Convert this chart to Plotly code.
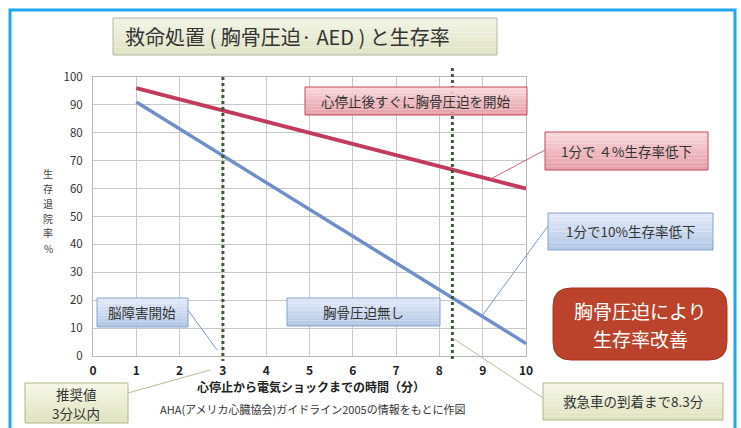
import plotly.graph_objects as go
import numpy as np

# ---------------- data ----------------
minutes = [1, 10]
survival_with_cpr = [96, 60]        # 心停止後すぐに胸骨圧迫を開始
survival_without_cpr = [91, 4.5]    # 胸骨圧迫無し
recommended_time = 3                # 推奨値 3分以内
ambulance_time = 8.3                # 救急車の到着まで8.3分
x_ticks = list(range(0, 11))
y_ticks = list(range(0, 101, 10))

title_text = "救命処置 ( 胸骨圧迫· AED ) と生存率"
xaxis_title = "心停止から電気ショックまでの時間（分）"
yaxis_title_chars = ["生", "存", "退", "院", "率", "%"]
source_text = "AHA(アメリカ心臓協会)ガイドライン2005の情報をもとに作図"

W, H = 741, 428
PX0, PX1 = 93, 526   # pixel x of x=0 and x=10
PY0, PY1 = 356, 77   # pixel y of y=0 and y=100
FONT = "Noto Sans CJK JP"


def px(x):
    return (x - PX0) / (PX1 - PX0)


def py(y):
    return (PY0 - y) / (PY0 - PY1)


def dx(v):  # data x -> paper
    return (v - 0) / 10


def dy(v):  # data y -> paper
    return v / 100


fig = go.Figure()
fig.add_trace(go.Scatter(x=minutes, y=survival_with_cpr, mode="lines",
                         line=dict(color="#c23a5c", width=4), hoverinfo="skip"))
fig.add_trace(go.Scatter(x=minutes, y=survival_without_cpr, mode="lines",
                         line=dict(color="#6f8fcb", width=3.5), hoverinfo="skip"))

shapes = []
annotations = []


def hexmix(c1, c2, t):
    a = [int(c1[i:i + 2], 16) for i in (1, 3, 5)]
    b = [int(c2[i:i + 2], 16) for i in (1, 3, 5)]
    return "#%02x%02x%02x" % tuple(round(a[k] + (b[k] - a[k]) * t) for k in range(3))


def add_box(x0, y0, x1, y1, ctop, cbot, border, n=10):
    for i in range(n):
        ya = y0 + (y1 - y0) * i / n
        yb = y0 + (y1 - y0) * (i + 1) / n
        shapes.append(dict(type="rect", xref="paper", yref="paper",
                           x0=px(x0), x1=px(x1), y0=py(ya), y1=py(yb),
                           fillcolor=hexmix(ctop, cbot, i / (n - 1)),
                           line=dict(width=0), layer="above"))
    shapes.append(dict(type="rect", xref="paper", yref="paper",
                       x0=px(x0), x1=px(x1), y0=py(y0), y1=py(y1),
                       line=dict(color=border, width=1), layer="above"))


def add_text(x, y, text, size=13, color="#333333", weight="normal"):
    annotations.append(dict(x=px(x), y=py(y), xref="paper", yref="paper",
                            text=text, showarrow=False, xanchor="center",
                            yanchor="middle", borderpad=0,
                            font=dict(family=FONT, size=size, color=color,
                                      weight=weight)))


def add_leader(x0, y0, x1, y1, color):
    shapes.append(dict(type="line", xref="paper", yref="paper",
                       x0=x0, y0=y0, x1=x1, y1=y1,
                       line=dict(color=color, width=1), layer="above"))


# outer frame
shapes.append(dict(type="rect", xref="paper", yref="paper",
                   x0=px(10), x1=px(735), y0=py(10), y1=py(445),
                   line=dict(color="#1fa8ef", width=3), layer="below"))

# dotted reference lines
shapes.append(dict(type="line", xref="paper", yref="paper",
                   x0=dx(recommended_time), x1=dx(recommended_time),
                   y0=dy(100), y1=py(361),
                   line=dict(color="#3d5c36", width=3, dash="dot"), layer="above"))
shapes.append(dict(type="line", xref="paper", yref="paper",
                   x0=dx(ambulance_time), x1=dx(ambulance_time),
                   y0=py(68), y1=py(359),
                   line=dict(color="#3d5c36", width=3, dash="dot"), layer="above"))

PINK = ("#f7d6da", "#e6a0a9", "#c24a5a")
BLUE = ("#e2eaf7", "#b3c7e6", "#87a3cf")
GREEN = ("#f5f7e6", "#e0e4c0", "#b0b488")

# title box
add_box(113, 18, 497, 55, "#f1f3e2", "#e0e4c6", "#b6b6a0")
add_text(287, 37, title_text, size=20, color="#333333")

# leaders
r_x = 9.17
r_y = float(np.interp(r_x, minutes, survival_with_cpr))
add_leader(dx(r_x), dy(r_y), px(545), py(150), "#c8687a")
b_x = 8.98
b_y = float(np.interp(b_x, minutes, survival_without_cpr))
add_leader(dx(b_x), dy(b_y), px(548), py(226), "#7a96c8")
add_leader(px(188), py(310), px(217), py(350), "#7a96c8")
add_leader(px(128), py(393), px(210), py(370), "#bcbc94")
add_leader(dx(ambulance_time), dy(6.5), px(543), py(398), "#bcbc94")

# boxes
add_box(305, 87, 527, 115, *PINK)
add_text(416, 101, "心停止後すぐに胸骨圧迫を開始", size=13.5)
add_box(545, 132, 708, 170, *PINK)
add_text(626, 151, "1分で ４%生存率低下", size=13.5)
add_box(548, 213, 713, 250, *BLUE)
add_text(630, 231, "1分で10%生存率低下", size=13.5)
add_box(97, 298, 188, 327, *BLUE)
add_text(142, 312, "脳障害開始", size=13.5)
add_box(287, 298, 440, 326, *BLUE)
add_text(363, 312, "胸骨圧迫無し", size=13.5)
add_box(25, 383, 128, 423, *GREEN)
add_text(76, 394, "推奨値", size=13.5)
add_text(76, 413, "3分以内", size=13.5)
add_box(543, 383, 723, 420, *GREEN)
add_text(633, 401, "救急車の到着まで8.3分", size=13.5)

# rounded red box
rx0, ry0, rx1, ry1, r = 553, 288, 727, 360, 18
path = (f"M {px(rx0 + r)} {py(ry0)} L {px(rx1 - r)} {py(ry0)} "
        f"Q {px(rx1)} {py(ry0)} {px(rx1)} {py(ry0 + r)} "
        f"L {px(rx1)} {py(ry1 - r)} Q {px(rx1)} {py(ry1)} {px(rx1 - r)} {py(ry1)} "
        f"L {px(rx0 + r)} {py(ry1)} Q {px(rx0)} {py(ry1)} {px(rx0)} {py(ry1 - r)} "
        f"L {px(rx0)} {py(ry0 + r)} Q {px(rx0)} {py(ry0)} {px(rx0 + r)} {py(ry0)} Z")
shapes.append(dict(type="path", xref="paper", yref="paper", path=path,
                   fillcolor="#bc432b", line=dict(color="#a6361f", width=1),
                   layer="above"))
add_text(640, 310, "胸骨圧迫により", size=19, color="#ffffff")
add_text(640, 338, "生存率改善", size=19, color="#ffffff")

# axis titles & source
add_text(311, 386, xaxis_title, size=12, color="#222222", weight="bold")
for i, ch in enumerate(yaxis_title_chars):
    add_text(48, 173 + 15 * i, ch, size=10, color="#444444")
add_text(312, 409, source_text, size=11, color="#333333")

fig.update_layout(
    width=W, height=H,
    margin=dict(l=PX0, r=W - PX1, t=PY1, b=H - PY0, pad=0),
    paper_bgcolor="white", plot_bgcolor="white",
    showlegend=False,
    shapes=shapes, annotations=annotations,
    font=dict(family=FONT),
    xaxis=dict(range=[0, 10], tickvals=x_ticks, showgrid=True,
               gridcolor="#c8c8c8", gridwidth=1, zeroline=False,
               showline=True, linecolor="#b8b8b8", mirror=True, ticks="",
               ticklabelstandoff=4,
               tickfont=dict(family=FONT, size=12, color="#222222", weight="bold")),
    yaxis=dict(range=[0, 100], tickvals=y_ticks, showgrid=True,
               gridcolor="#c8c8c8", gridwidth=1, zeroline=False,
               showline=True, linecolor="#b8b8b8", mirror=True, ticks="",
               ticklabelstandoff=7,
               tickfont=dict(family=FONT, size=11.5, color="#333333")),
)

fig.write_html("out.html")
